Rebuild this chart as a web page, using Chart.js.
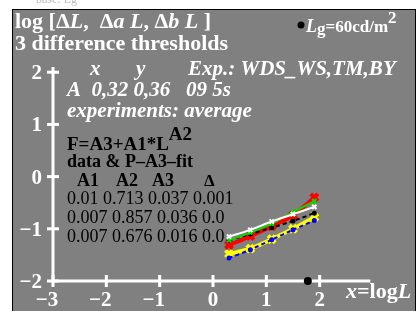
<!DOCTYPE html>
<html>
<head>
<meta charset="utf-8">
<script src="https://cdn.jsdelivr.net/npm/chart.js"></script>
<style>
    html, body { margin: 0; padding: 0; background: #ffffff; }
    #wrap { position: relative; width: 420px; height: 311px; }
</style>
</head>
<body>
<div id="wrap"><canvas id="myChart" width="420" height="311"></canvas></div>
<script>
// data
var xTicks = [-3, -2, -1, 0, 1, 2];
var yTicks = [-2, -1, 0, 1, 2];
var logL = [0.3, 0.7, 1.1, 1.5, 1.9];
var whiteY = [-1.15, -1.02, -0.86, -0.72, -0.58];
var greenY = [-1.22, -1.07, -0.90, -0.68, -0.47];
var blackY = [-1.22, -1.10, -0.98, -0.85, -0.70];
var blueY = [-1.56, -1.40, -1.21, -1.02, -0.84];
var redY = [-1.31, -1.14, -0.95, -0.74, -0.40];
var yellowY = [-1.48, -1.38, -1.20, -1.00, -0.78];
var fitRows = [
    ['0.01', '0.713', '0.037', '0.001'],
    ['0.007', '0.857', '0.036', '0.0'],
    ['0.007', '0.676', '0.016', '0.0']
];
var logLg = Math.log10(60);

function pts(ys) {
    return logL.map(function (x, i) { return { x: x, y: ys[i] }; });
}

function ds(label, ys, color, opts) {
    var d = {
        label: label,
        data: pts(ys),
        borderColor: color,
        backgroundColor: color,
        borderWidth: 2,
        pointStyle: 'crossRot',
        pointRadius: 3,
        pointBorderWidth: 2,
        showLine: true,
        tension: 0.3
    };
    for (var k in opts) d[k] = opts[k];
    return d;
}

var SERIF = '"Liberation Serif", "DejaVu Serif", serif';

// draws a list of [text, font, dy] pieces one after another
function runs(ctx, x, y, parts, color) {
    ctx.fillStyle = color;
    ctx.textAlign = 'left';
    ctx.textBaseline = 'alphabetic';
    parts.forEach(function (p) {
        ctx.font = p[1];
        ctx.fillText(p[0], x, y + (p[2] || 0));
        x += ctx.measureText(p[0]).width;
    });
}

var decor = {
    id: 'decor',
    beforeDraw: function (chart) {
        var ctx = chart.ctx;
        ctx.save();
        ctx.fillStyle = '#ffffff';
        ctx.fillRect(0, 0, 420, 311);
        ctx.fillStyle = '#bbbbbb';
        ctx.font = '12px ' + SERIF;
        ctx.fillText('base: Lg', 36, 3);
        ctx.fillStyle = '#808080';
        ctx.fillRect(13, 9, 402, 302);
        ctx.strokeStyle = '#000000';
        ctx.lineWidth = 1;
        ctx.strokeRect(12.5, 9.5, 403, 302);
        ctx.restore();
    },
    beforeDatasetsDraw: function (chart) {
        var ctx = chart.ctx, sx = chart.scales.x, sy = chart.scales.y;
        var x0 = sx.getPixelForValue(-3), y0 = sy.getPixelForValue(-2);
        ctx.save();
        ctx.strokeStyle = '#ffffff';
        ctx.lineWidth = 3;
        ctx.beginPath();
        ctx.moveTo(x0, sy.getPixelForValue(2.1));
        ctx.lineTo(x0, y0);
        ctx.lineTo(sx.getPixelForValue(2.95), y0);
        ctx.stroke();
        ctx.fillStyle = '#ffffff';
        ctx.font = 'bold 21px ' + SERIF;
        ctx.textBaseline = 'alphabetic';
        yTicks.forEach(function (v) {
            var py = sy.getPixelForValue(v);
            ctx.beginPath();
            ctx.moveTo(x0 - 6, py);
            ctx.lineTo(x0 + 6, py);
            ctx.stroke();
            ctx.textAlign = 'right';
            ctx.fillText(String(v).replace('-', '\u2212'), x0 - 11, py + 7);
        });
        xTicks.forEach(function (v) {
            var px = sx.getPixelForValue(v);
            ctx.beginPath();
            ctx.moveTo(px, y0 - 6);
            ctx.lineTo(px, y0 + 6);
            ctx.stroke();
            var dw = ctx.measureText(String(Math.abs(v))).width;
            ctx.textAlign = 'right';
            ctx.fillText(String(v).replace('-', '\u2212'), px + dw / 2, 306);
        });
        // L_g marker on the axis
        ctx.fillStyle = '#000000';
        ctx.beginPath();
        ctx.arc(sx.getPixelForValue(logLg), y0, 4, 0, Math.PI * 2);
        ctx.fill();
        ctx.restore();
    },
    afterDraw: function (chart) {
        var ctx = chart.ctx;
        var B = 'bold 22px ' + SERIF, BI = 'italic bold 22px ' + SERIF;
        var BI21 = 'italic bold 21px ' + SERIF;
        ctx.save();
        runs(ctx, 15, 28, [['log [\u0394', B], ['L', BI], [',  \u0394', B], ['a L', BI],
            [', \u0394', B], ['b L', BI], [' ]', B]], '#ffffff');
        runs(ctx, 15, 50, [['3 difference thresholds', B]], '#ffffff');
        runs(ctx, 90, 75, [['x', BI21]], '#ffffff');
        runs(ctx, 136, 75, [['y', BI21]], '#ffffff');
        runs(ctx, 188, 75, [['Exp.: WDS_WS,TM,BY', BI21]], '#ffffff');
        runs(ctx, 67, 96, [['A  0,32 0,36   09 5s', BI21]], '#ffffff');
        runs(ctx, 67, 117, [['experiments: average', BI21]], '#ffffff');

        ctx.fillStyle = '#000000';
        ctx.beginPath();
        ctx.arc(301, 25, 3.5, 0, Math.PI * 2);
        ctx.fill();
        runs(ctx, 306, 32, [['L', 'italic bold 18px ' + SERIF], ['g', 'bold 17px ' + SERIF, 2],
            ['=60cd/m', 'bold 17px ' + SERIF], ['2', 'bold 17px ' + SERIF, -9]], '#ffffff');

        var K = 'bold 19px ' + SERIF;
        runs(ctx, 67, 150, [['F=A3+A1*L', K], ['A2', K, -10]], '#000000');
        runs(ctx, 67, 167, [['data & P\u2013A3\u2013fit', 'bold 18px ' + SERIF]], '#000000');
        runs(ctx, 77, 186, [['A1', 'bold 18px ' + SERIF]], '#000000');
        runs(ctx, 116, 186, [['A2', 'bold 18px ' + SERIF]], '#000000');
        runs(ctx, 152, 186, [['A3', 'bold 18px ' + SERIF]], '#000000');
        runs(ctx, 204, 186, [['\u0394', 'bold 17px ' + SERIF]], '#000000');
        fitRows.forEach(function (r, i) {
            runs(ctx, 67, 204 + i * 19, [[r.join(' '), '18px ' + SERIF]], '#000000');
        });

        runs(ctx, 346, 298, [['x', BI], ['=log', B], ['L', BI]], '#ffffff');
        ctx.restore();
    }
};

var ctx = document.getElementById('myChart').getContext('2d');
var myChart = new Chart(ctx, {
    type: 'scatter',
    data: {
        datasets: [
            ds('white', whiteY, '#ffffff', { borderWidth: 2 }),
            ds('green', greenY, '#00dd00', { borderWidth: 2 }),
            ds('black', blackY, '#000000', { borderWidth: 2, borderDash: [4, 3], pointStyle: 'circle', pointRadius: 1.5 }),
            ds('blue', blueY, '#0000ff', { borderWidth: 2, borderDash: [4, 3], pointStyle: 'circle', pointRadius: 1.5 }),
            ds('red', redY, '#ff0000', { borderWidth: 4, pointRadius: 5, pointBorderWidth: 4 }),
            ds('yellow', yellowY, '#ffff00', { borderWidth: 4, pointRadius: 5, pointBorderWidth: 4 })
        ]
    },
    options: {
        responsive: false,
        animation: false,
        layout: { padding: { left: 53, right: 47, top: 67, bottom: 30 } },
        scales: {
            x: { display: false, min: -3, max: 3 },
            y: { display: false, min: -2, max: 2.1 }
        },
        plugins: {
            legend: { display: false },
            tooltip: { enabled: false }
        }
    },
    plugins: [decor]
});
</script>
</body>
</html>
